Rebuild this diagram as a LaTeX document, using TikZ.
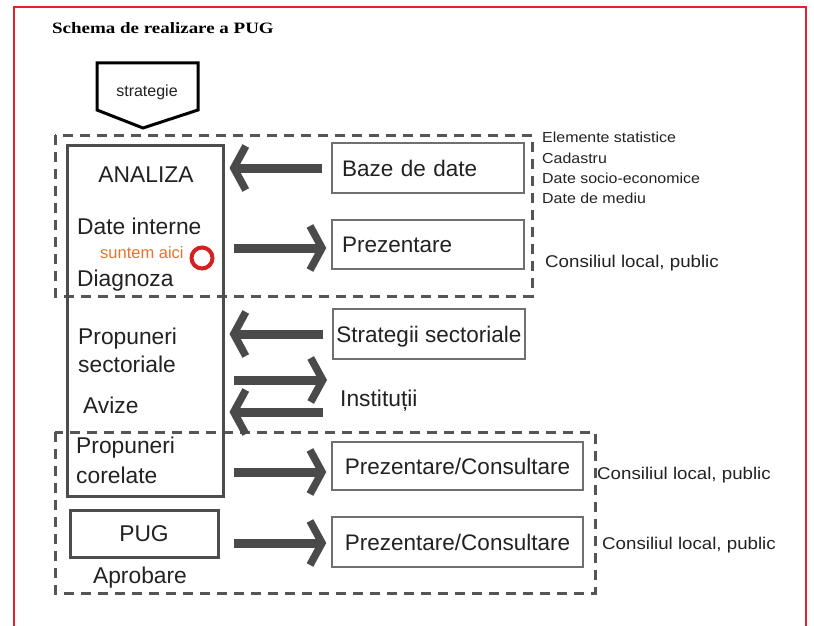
\documentclass[tikz,border=0pt]{standalone}
\usepackage{fontspec}
\setmainfont{Liberation Sans}
\newfontfamily\titlefont{Liberation Serif}[FakeStretch=1.2]
\newfontfamily\sidefont{Liberation Sans}[FakeStretch=1.1]
\usetikzlibrary{arrows.meta}
\definecolor{tx}{HTML}{222222}
\definecolor{bx}{HTML}{4D4D4D}
\definecolor{rbx}{HTML}{707070}
\definecolor{ar}{HTML}{4A4A4A}
\definecolor{dsh}{HTML}{555555}
\definecolor{rd}{HTML}{D42020}
\definecolor{frame}{HTML}{E8202A}
\definecolor{orng}{HTML}{E8732A}
\begin{document}
\begin{tikzpicture}[x=1pt,y=-1pt,
  big/.style={font=\fontsize{22.8}{27}\selectfont, text height=16.2pt, text depth=0pt, inner sep=0pt, text=tx},
  side/.style={font=\sidefont\fontsize{14.5}{20.3}\selectfont, inner sep=0pt, text=tx, align=left},
  sidecl/.style={font=\sidefont\fontsize{17}{22}\selectfont, inner sep=0pt, text=tx, text height=12.3pt, text depth=0pt},
  rbox/.style={draw=rbx, line width=1.5pt, minimum height=50pt, font=\fontsize{22.5}{26}\selectfont, text height=16pt, text depth=0pt, text=tx},
  mainbox/.style={draw=bx, line width=3pt, inner sep=0pt},
  arr/.style={draw=ar, line width=9pt, -{Straight Barb[length=12pt,width=44pt,line width=7.5pt]}},
  dashline/.style={draw=dsh, line width=3pt, dash pattern=on 10pt off 7pt}]
\useasboundingbox (0,0) rectangle (814,626);
\fill[white] (0,0) rectangle (814,626);
% red frame
\draw[frame, line width=2.5pt] (14,640) -- (14,7) -- (806,7) -- (806,640);
% title
\node[anchor=base west, inner sep=0pt, font=\titlefont\bfseries\fontsize{15.8}{18}\selectfont, text=black] (title) at (52,34) {Schema de realizare a PUG};
% strategie
\draw[black, line width=3pt, line join=miter] (97,63) -- (198,63) -- (198,110) -- (143,128) -- (97,110) -- cycle;
\node[inner sep=0pt, font=\fontsize{16}{19}\selectfont, text height=11.5pt, text depth=0pt, text=tx] (strat0) at (147,91) {strategie};
% dashed frames
\draw[dashline] (55,135) rectangle (532,296);
\draw[dashline] (55,432) rectangle (595,593);
% main box
\node[mainbox, minimum width=156pt, minimum height=351pt] (main) at (145,320.5) {};
\node[big] (analiza) at (146,174) {ANALIZA};
\node[big, anchor=west] (dint) at (77,226) {Date interne};
\node[inner sep=0pt, anchor=west, font=\fontsize{16.5}{19}\selectfont, text=orng, text height=8pt, text depth=0pt] (aici) at (100,254) {suntem aici};
\node[circle, draw=rd, line width=4pt, minimum size=21pt, inner sep=0pt] (here) at (202,258) {};
\node[big, anchor=west] (diag) at (77,278.5) {Diagnoza};
\node[big, anchor=west] (prop1) at (78,336) {Propuneri};
\node[big, anchor=west] (sect) at (78,364) {sectoriale};
\node[big, anchor=west] (avize) at (83,405) {Avize};
\node[big, anchor=west] (prop2) at (76,445) {Propuneri};
\node[big, anchor=west] (corel) at (76,475) {corelate};
% PUG
\node[mainbox, minimum width=148pt, minimum height=47pt, big, draw=bx, inner sep=0pt] (pug) at (144,533.5) {PUG};
\node[big] (aprob) at (140,575) {Aprobare};
% right boxes
\node[rbox, text width=172pt, align=left, inner xsep=10pt] (baze) at (428,168) {Baze de date};
\node[rbox, text width=172pt, align=left, inner xsep=10pt, minimum height=49pt] (prez) at (428,244.5) {Prezentare};
\node[rbox, minimum width=192pt, inner xsep=2pt] (sstrat) at (429,334) {Strategii sectoriale};
\node[big, anchor=west] (inst) at (340,398) {Instituții};
\node[rbox, minimum width=251pt, minimum height=48pt] (pc1) at (457.5,466) {Prezentare/Consultare};
\node[rbox, minimum width=251pt] (pc2) at (457.5,542) {Prezentare/Consultare};
% side texts
\node[side, anchor=north west] (elem) at (542,132) {Elemente statistice\\Cadastru\\Date socio-economice\\Date de mediu};
\node[sidecl, anchor=west] (cl1) at (545,261) {Consiliul local, public};
\node[sidecl, anchor=west] (cl2) at (597,473.5) {Consiliul local, public};
\node[sidecl, anchor=west] (cl3) at (602,543) {Consiliul local, public};
% arrows
\draw[arr, shorten <=9pt, shorten >=5pt] (baze.west) -- (baze.west -| main.east);
\draw[arr, shorten <=9pt, shorten >=5pt] ([yshift=-3.5pt]prez.west -| main.east) -- ([yshift=-3.5pt]prez.west);
\draw[arr, shorten <=9pt, shorten >=5pt] (sstrat.west) -- (sstrat.west -| main.east);
\draw[arr, shorten <=9pt, shorten >=13pt] ([yshift=18pt]inst.west -| main.east) -- ([yshift=18pt]inst.west);
\draw[arr, shorten <=17pt, shorten >=5pt] ([yshift=-14pt]inst.west) -- ([yshift=-14pt]inst.west -| main.east);
\draw[arr, shorten <=9pt, shorten >=5pt] ([yshift=-6pt]pc1.west -| main.east) -- ([yshift=-6pt]pc1.west);
\draw[arr, shorten <=9pt, shorten >=5pt] ([yshift=-1pt]pc2.west -| main.east) -- ([yshift=-1pt]pc2.west);
\end{tikzpicture}
\end{document}
